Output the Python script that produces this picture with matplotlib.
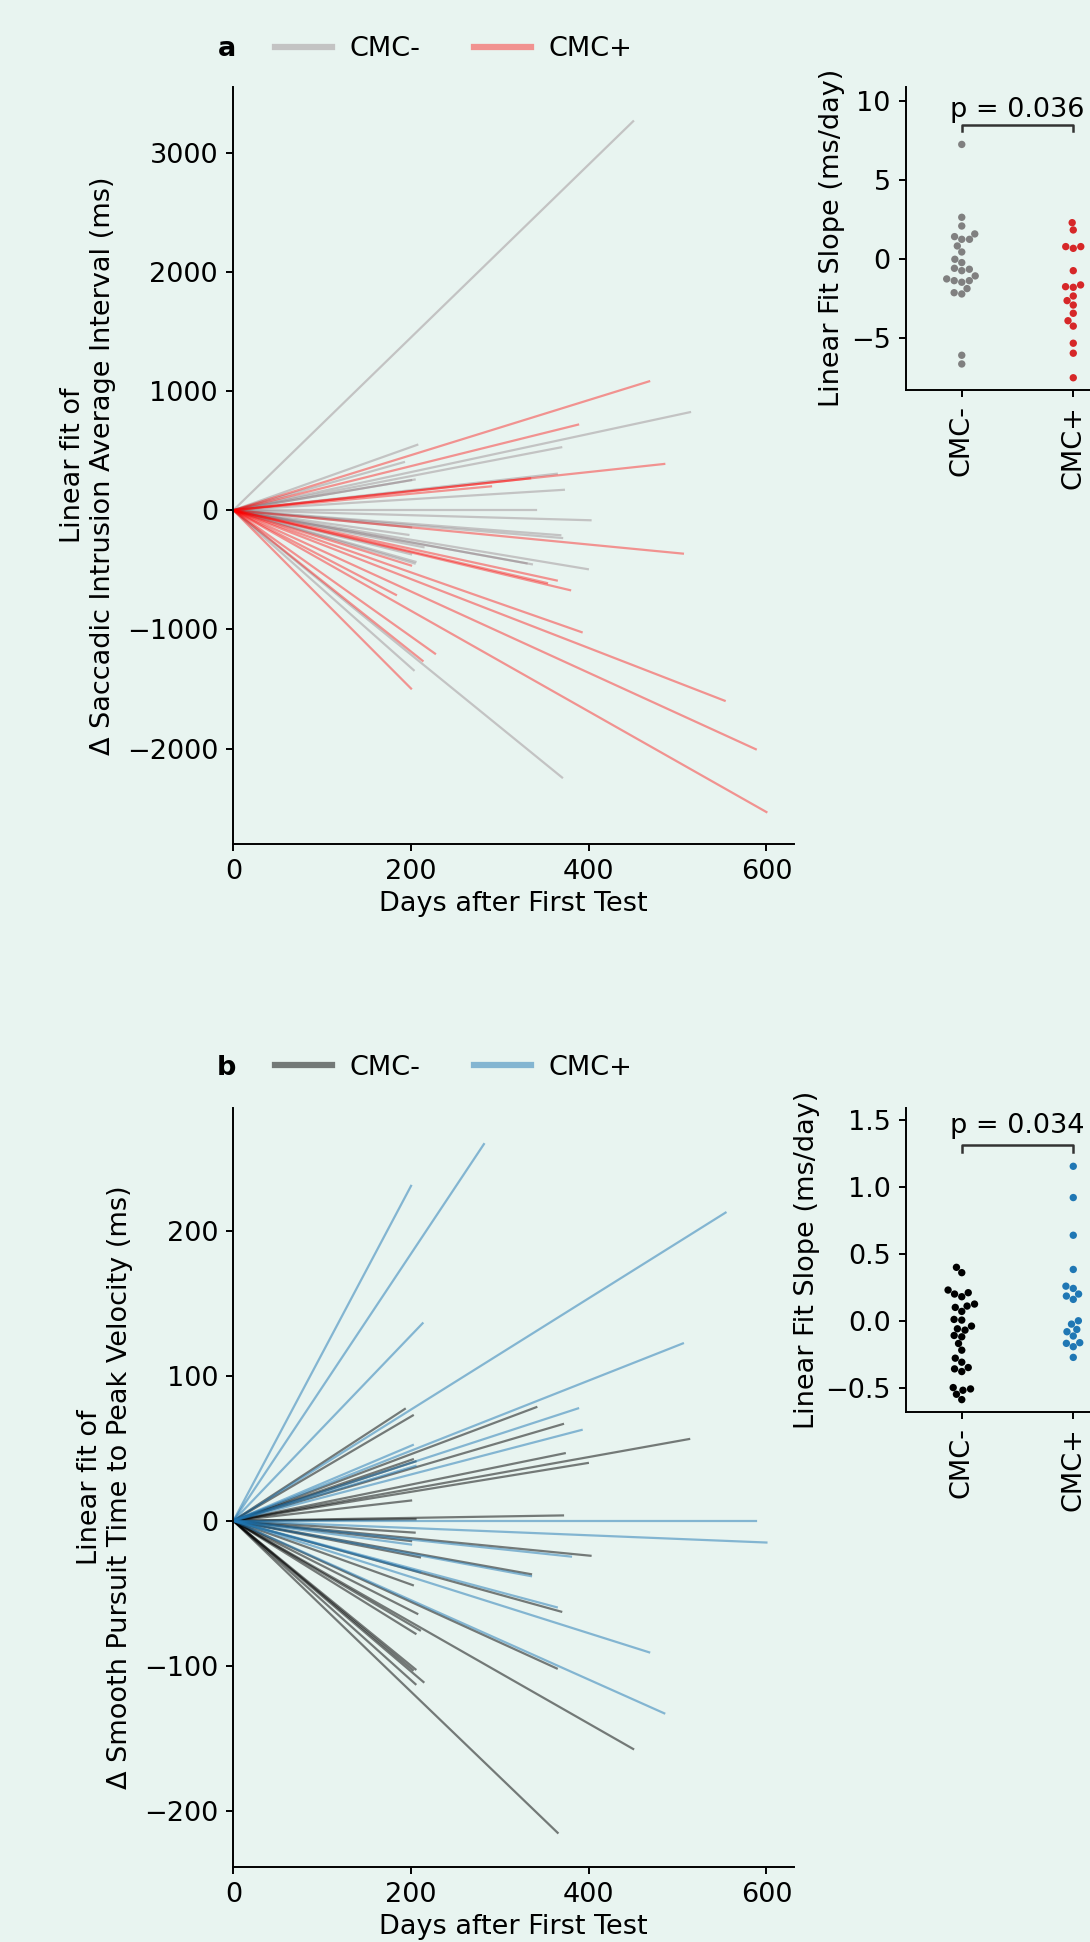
import numpy as np
import pandas as pd
import matplotlib
matplotlib.use('Agg')
import matplotlib.pyplot as plt
from matplotlib.lines import Line2D
import seaborn as sns

# panel a: saccadic intrusion interval, slope (ms/day) and last day of follow-up
a_neg_slope = [7.25, 2.65, 2.10, 1.60, 1.43, 1.26, 1.26, 0.84, 0.46, 0.00, -0.21, -0.57,
               -0.63, -0.72, -1.05, -1.24, -1.35, -1.35, -1.45, -1.85, -2.11, -2.19, -6.06, -6.61]
a_neg_days = [450, 207, 192, 514, 369, 204, 200, 364, 372, 341, 402, 368,
              370, 200, 197, 399, 336, 330, 214, 200, 205, 204, 370, 203]
a_pos_slope = [2.31, 1.85, 0.80, 0.80, 0.69, -0.72, -1.62, -1.73, -1.77, -2.32, -2.61, -2.89,
               -3.41, -3.88, -4.22, -5.30, -5.93, -7.48]
a_pos_days = [468, 388, 485, 334, 290, 506, 364, 353, 379, 200, 392, 553,
              588, 183, 600, 227, 213, 200]

# panel b: smooth pursuit time to peak velocity
b_neg_slope = [0.40, 0.36, 0.23, 0.21, 0.20, 0.18, 0.125, 0.11, 0.10, 0.07, 0.01, 0.005,
               -0.04, -0.06, -0.07, -0.11, -0.12, -0.17, -0.22, -0.28, -0.31, -0.35,
               -0.36, -0.38, -0.50, -0.51, -0.52, -0.55, -0.59]
b_neg_days = [193, 202, 341, 202, 205, 371, 373, 513, 399, 200, 371, 205,
              204, 402, 200, 335, 210, 369, 202, 364, 207, 450,
              210, 205, 205, 202, 214, 205, 365]
b_pos_slope = [1.156, 0.922, 0.640, 0.384, 0.259, 0.242, 0.200, 0.185, 0.160, 0.000, -0.025,
               -0.065, -0.082, -0.114, -0.164, -0.169, -0.194, -0.274]
b_pos_days = [200, 282, 213, 554, 202, 506, 388, 205, 392, 588, 600,
              380, 200, 335, 364, 210, 468, 485]

groups = ['CMC-', 'CMC+']
p_values = ['p = 0.036', 'p = 0.034']

BG = '#e8f4f0'
plt.rcParams['font.family'] = ['DejaVu Sans']
plt.rcParams['font.size'] = 19.5
plt.rcParams['axes.linewidth'] = 1.4
for k in ['xtick', 'ytick']:
    plt.rcParams[k + '.major.size'] = 5
    plt.rcParams[k + '.major.width'] = 1.4
    plt.rcParams[k + '.major.pad'] = 6


def fan_panel(fig, rect, neg, pos, colors, alpha, ylim, yticks, ylabel, letter, leg_y):
    ax = fig.add_axes(rect)
    ax.set_facecolor(BG)
    for s, d in zip(*neg):
        ax.plot([0, d], [0, s * d], color=colors[0], alpha=alpha, lw=1.6)
    for s, d in zip(*pos):
        ax.plot([0, d], [0, s * d], color=colors[1], alpha=alpha, lw=1.6)
    ax.set_xlim(0, 631)
    ax.set_ylim(*ylim)
    ax.set_xticks([0, 200, 400, 600])
    ax.set_yticks(yticks)
    ax.set_xlabel('Days after First Test')
    ax.set_ylabel(ylabel, labelpad=8)
    for sp in ['top', 'right']:
        ax.spines[sp].set_visible(False)
    handles = [Line2D([], [], color=c, alpha=alpha, lw=4.5) for c in colors]
    ax.legend(handles, groups, ncol=2, loc='center left', bbox_to_anchor=(0.074, leg_y),
              frameon=False, borderpad=0, borderaxespad=0, handlelength=2.1,
              handletextpad=0.65, columnspacing=2.0)
    ax.text(-0.012, leg_y, letter, transform=ax.transAxes, fontweight='bold',
            ha='center', va='center')
    return ax


def swarm_inset(fig, rect, neg, pos, colors, ylim, yticks, bracket, ptext):
    ax = fig.add_axes(rect)
    ax.set_facecolor(BG)
    df = pd.DataFrame({'group': ['CMC-'] * len(neg) + ['CMC+'] * len(pos),
                       'slope': list(neg) + list(pos)})
    sns.swarmplot(data=df, x='group', y='slope', hue='group', order=groups,
                  hue_order=groups, palette=colors, size=5.3, ax=ax, legend=False)
    ax.set_xlim(-0.5, 1.5)
    ax.set_ylim(*ylim)
    ax.set_yticks(yticks)
    ax.set_xticks([0, 1])
    ax.set_xticklabels(groups, rotation=90)
    ax.set_xlabel('')
    ax.set_ylabel('Linear Fit Slope (ms/day)')
    for sp in ['top', 'right']:
        ax.spines[sp].set_visible(False)
    y, h, ty = bracket
    ax.plot([0, 0, 1, 1], [y - h, y, y, y - h], color='#333333', lw=1.8)
    ax.text(0.5, ty, ptext, ha='center', va='bottom')
    return ax


def main():
    fig = plt.figure(figsize=(10.9, 19.42), dpi=100, facecolor=BG)

    # grey tuned so that the translucent lines look neutral on the mint background
    fan_panel(fig, [0.2141, 0.5654, 0.5143, 0.3898], (a_neg_slope, a_neg_days),
              (a_pos_slope, a_pos_days), ['#8c7a80', 'red'], 0.4, (-2800, 3550),
              [-2000, -1000, 0, 1000, 2000, 3000],
              'Linear fit of\n\u0394 Saccadic Intrusion Average Interval (ms)', 'a', 1.0502)
    swarm_inset(fig, [0.8312, 0.7992, 0.2046, 0.1562], a_neg_slope, a_pos_slope,
                ['#808080', '#d62728'], (-8.25, 10.9), [-5, 0, 5, 10],
                (8.48, 0.36, 8.6), p_values[0])

    fan_panel(fig, [0.2141, 0.0386, 0.5143, 0.3909], (b_neg_slope, b_neg_days),
              (b_pos_slope, b_pos_days), ['black', '#1f77b4'], 0.5, (-239, 285),
              [-200, -100, 0, 100, 200],
              'Linear fit of\n\u0394 Smooth Pursuit Time to Peak Velocity (ms)', 'b', 1.0527)
    swarm_inset(fig, [0.8312, 0.2731, 0.2046, 0.1562], b_neg_slope, b_pos_slope,
                ['black', '#1f77b4'], (-0.68, 1.59), [-0.5, 0.0, 0.5, 1.0, 1.5],
                (1.313, 0.05, 1.36), p_values[1])

    fig.savefig('out.png', dpi=100, facecolor=BG)


if __name__ == '__main__':
    main()
